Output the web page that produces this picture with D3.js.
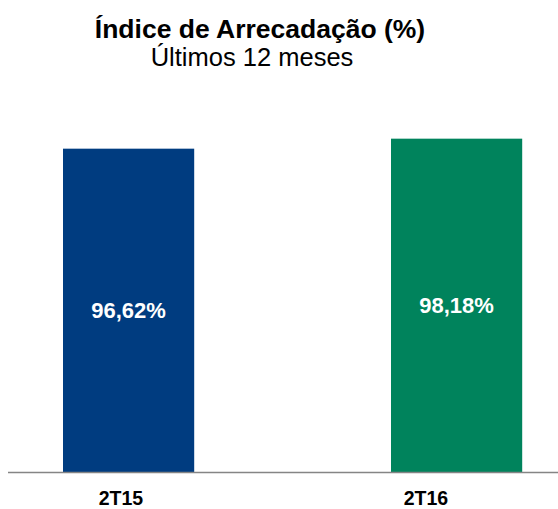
<!DOCTYPE html>
<html>
<head>
<meta charset="utf-8">
<script src="https://cdn.jsdelivr.net/npm/d3@7"></script>
<style>
  body { margin: 0; background: #fff; }
  svg { display: block; font-family: "Liberation Sans", Arial, sans-serif; }
</style>
</head>
<body>
<div id="chart"></div>
<script>
const categories = ["2T15", "2T16"];
const values = [96.62, 98.18];
const valueLabels = ["96,62%", "98,18%"];
const barColors = ["#003C80", "#00835C"];

const width = 558, height = 509;
const baseline = 472;

const svg = d3.select("#chart")
    .append("svg")
    .attr("width", width)
    .attr("height", height);

// titles
svg.append("text")
    .attr("x", 260).attr("y", 38)
    .attr("text-anchor", "middle")
    .attr("font-size", "26.5px")
    .attr("font-weight", "bold")
    .attr("fill", "#000")
    .text("Índice de Arrecadação (%)");

svg.append("text")
    .attr("x", 252).attr("y", 66)
    .attr("text-anchor", "middle")
    .attr("font-size", "25.5px")
    .attr("fill", "#000")
    .text("Últimos 12 meses");

// scales
const x = d3.scaleBand()
    .domain(categories)
    .range([-2.6, 587.8])
    .paddingInner(0.6)
    .paddingOuter(0.2);

const xLabel = d3.scalePoint()
    .domain(categories)
    .range([121, 426]);

const y = d3.scaleLinear()
    .domain([46.2, 100])
    .range([baseline, 127]);

// bars
svg.selectAll("rect.bar")
    .data(values)
    .join("rect")
    .attr("class", "bar")
    .attr("x", (d, i) => x(categories[i]))
    .attr("y", d => y(d))
    .attr("width", x.bandwidth())
    .attr("height", d => baseline - y(d))
    .attr("fill", (d, i) => barColors[i]);

// value labels in the middle of each bar
svg.selectAll("text.val")
    .data(values)
    .join("text")
    .attr("class", "val")
    .attr("x", (d, i) => x(categories[i]) + x.bandwidth() / 2)
    .attr("y", d => (y(d) + baseline) / 2 + 8)
    .attr("text-anchor", "middle")
    .attr("font-size", "22px")
    .attr("font-weight", "bold")
    .attr("fill", "#fff")
    .text((d, i) => valueLabels[i]);

// baseline
svg.append("line")
    .attr("x1", 8).attr("x2", width)
    .attr("y1", baseline + 0.5).attr("y2", baseline + 0.5)
    .attr("stroke", "#858585")
    .attr("stroke-width", 1.5);

// category labels
svg.selectAll("text.cat")
    .data(categories)
    .join("text")
    .attr("class", "cat")
    .attr("x", d => xLabel(d))
    .attr("y", 505)
    .attr("text-anchor", "middle")
    .attr("font-size", "19.5px")
    .attr("font-weight", "bold")
    .attr("fill", "#000")
    .text(d => d);
</script>
</body>
</html>
